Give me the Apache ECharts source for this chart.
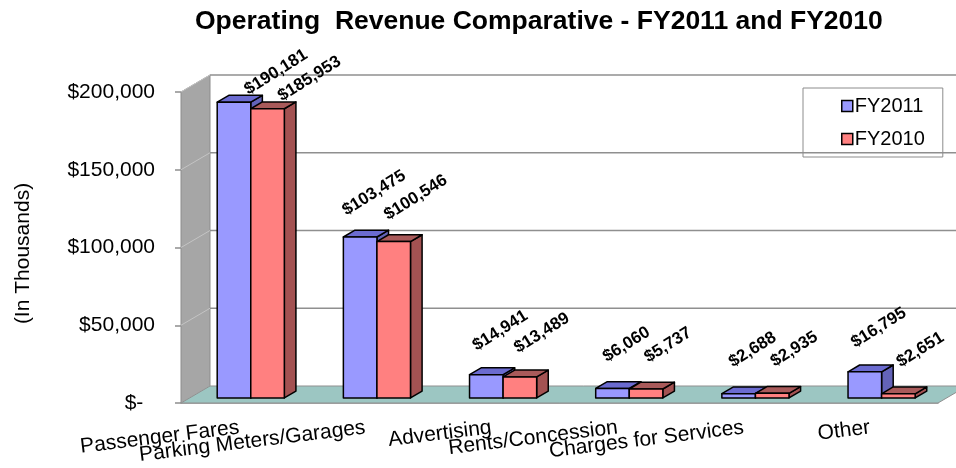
<!DOCTYPE html>
<html>
<head>
<meta charset="utf-8">
<script src="https://cdn.jsdelivr.net/npm/echarts@6/dist/echarts.min.js"></script>
<style>
  html, body { margin: 0; padding: 0; background: #fff; }
  #chart { width: 956px; height: 468px; }
</style>
</head>
<body>
<div id="chart"></div>
<script>
// data
const categories = ['Passenger Fares', 'Parking Meters/Garages', 'Advertising', 'Rents/Concession', 'Charges for Services', 'Other']
const fy2011 = [190181, 103475, 14941, 6060, 2688, 16795]
const fy2010 = [185953, 100546, 13489, 5737, 2935, 2651]
const yTicks = [0, 50000, 100000, 150000, 200000]

// fake 3d depth (px) of the plot box
const DX = 29
const DY = -17
const FONT = '"Liberation Sans", Arial, sans-serif'

const money = v => '$' + v.toLocaleString('en-US')

// side wall, back wall grid and floor
function renderWalls (params, api) {
    const cs = params.coordSys
    const left = cs.x
    const right = cs.x + cs.width
    const base = api.coord([0, 0])[1]
    const top = api.coord([0, 200000])[1]
    const kids = []
    kids.push({
        type: 'polygon',
        shape: { points: [[left, top], [left + DX, top + DY], [left + DX, base + DY], [left, base]] },
        style: { fill: '#a6a6a6', stroke: '#8c8c8c', lineWidth: 1 }
    })
    yTicks.forEach(v => {
        const y = api.coord([0, v])[1]
        kids.push({
            type: 'line',
            shape: { x1: left, y1: y, x2: left + DX, y2: y + DY },
            style: { stroke: '#c4c4c4', lineWidth: 1 }
        })
        if (v > 0) {
            kids.push({
                type: 'line',
                shape: { x1: left + DX, y1: y + DY, x2: right + DX, y2: y + DY },
                style: { stroke: '#8f8f8f', lineWidth: 1.5 }
            })
        }
    })
    kids.push({
        type: 'polygon',
        shape: { points: [[left, base], [right, base], [right + DX, base + DY], [left + DX, base + DY]] },
        style: { fill: '#9cc6c2', stroke: '#8f8f8f', lineWidth: 1 }
    })
    return { type: 'group', children: kids }
}

function makeBarRenderer (slot, front, dark, side) {
    // slot: left/right edge of the front face, as fraction of band width from band centre
    return function (params, api) {
        const val = api.value(1)
        const c = api.coord([api.value(0), val])
        const bw = api.size([1, 0])[0]
        const base = api.coord([0, 0])[1]
        const fx = 0.3 * DX
        const fy = 0.3 * DY
        const bx = 0.4 * DX
        const by = 0.4 * DY
        const x0 = c[0] + slot[0] * bw + fx
        const x1 = c[0] + slot[1] * bw + fx
        const yt = c[1] + fy
        const yb = base + fy
        const st = { stroke: '#000', lineWidth: 1.5, lineJoin: 'round' }
        // label, pushed down/right when it would leave the plot
        const cx = (x0 + x1) / 2
        let lx = cx + (slot[0] < -0.1 ? 14 : 22)
        let ly = yt - 44
        if (ly < 78) {
            lx = cx + 42
            ly = yt - 30
        }
        return {
            type: 'group',
            children: [
                { type: 'polygon', shape: { points: [[x1, yt], [x1 + bx, yt + by], [x1 + bx, yb + by], [x1, yb]] }, style: Object.assign({ fill: side }, st) },
                { type: 'polygon', shape: { points: [[x0, yt], [x1, yt], [x1 + bx, yt + by], [x0 + bx, yt + by]] }, style: Object.assign({ fill: dark }, st) },
                { type: 'rect', shape: { x: x0, y: yt, width: x1 - x0, height: yb - yt }, style: Object.assign({ fill: front }, st) },
                {
                    type: 'text',
                    x: lx,
                    y: ly,
                    rotation: 32 * Math.PI / 180,
                    style: {
                        text: money(val),
                        align: 'center',
                        verticalAlign: 'middle',
                        font: 'bold 17px ' + FONT,
                        fill: '#000'
                    }
                }
            ]
        }
    }
}

const chart = echarts.init(document.getElementById('chart'))
const option = {
    backgroundColor: '#fff',
    animation: false,
    title: {
        text: 'Operating  Revenue Comparative - FY2011 and FY2010',
        left: 190,
        top: 3,
        textStyle: { fontFamily: FONT, fontSize: 26.5, fontWeight: 'bold', color: '#000' }
    },
    legend: {
        left: 803,
        top: 88,
        orient: 'vertical',
        padding: [8, 18, 8, 38],
        itemGap: 13,
        itemWidth: 11,
        itemHeight: 11,
        borderColor: '#8c8c8c',
        borderWidth: 1,
        icon: 'rect',
        itemStyle: { borderColor: '#000', borderWidth: 1.5 },
        textStyle: { fontFamily: FONT, fontSize: 20, color: '#000', padding: [0, 0, 0, -3] },
        data: ['FY2011', 'FY2010']
    },
    grid: { left: 181, right: 18, top: 92, bottom: 65 },
    xAxis: {
        type: 'category',
        data: categories,
        axisLine: { lineStyle: { color: '#8f8f8f', width: 1.5 } },
        axisTick: { length: 6, lineStyle: { color: '#8f8f8f', width: 1.5 } },
        axisLabel: {
            rotate: 7,
            margin: 24,
            interval: 0,
            fontFamily: FONT,
            fontSize: 21,
            color: '#000',
            padding: [0, 5, 0, 0]
        }
    },
    yAxis: {
        type: 'value',
        min: 0,
        max: 200000,
        interval: 50000,
        name: '(In Thousands)',
        nameLocation: 'middle',
        nameRotate: 90,
        nameGap: 147,
        nameTextStyle: { fontFamily: FONT, fontSize: 21, color: '#000', padding: [0, 12, 0, 0] },
        axisLine: { show: false },
        axisTick: { show: true, length: 6, lineStyle: { color: '#8f8f8f', width: 1.5 } },
        splitLine: { show: false },
        axisLabel: {
            margin: 26,
            fontFamily: FONT,
            fontSize: 21,
            color: '#000',
            formatter: v => v === 0 ? '$-  ' : money(v)
        }
    },
    series: [
        {
            type: 'custom',
            silent: true,
            renderItem: renderWalls,
            data: [[0, 0]],
            z: 1
        },
        {
            name: 'FY2011',
            type: 'custom',
            itemStyle: { color: '#9999ff' },
            renderItem: makeBarRenderer([-0.282, -0.016], '#9999ff', '#6b6bd0', '#6363b8'),
            data: fy2011.map((v, i) => [i, v]),
            encode: { x: 0, y: 1 },
            z: 2
        },
        {
            name: 'FY2010',
            type: 'custom',
            itemStyle: { color: '#ff8080' },
            renderItem: makeBarRenderer([-0.016, 0.25], '#ff8080', '#a95a5a', '#a35252'),
            data: fy2010.map((v, i) => [i, v]),
            encode: { x: 0, y: 1 },
            z: 3
        }
    ]
}
chart.setOption(option)
window.addEventListener('resize', () => chart.resize())
</script>
</body>
</html>
